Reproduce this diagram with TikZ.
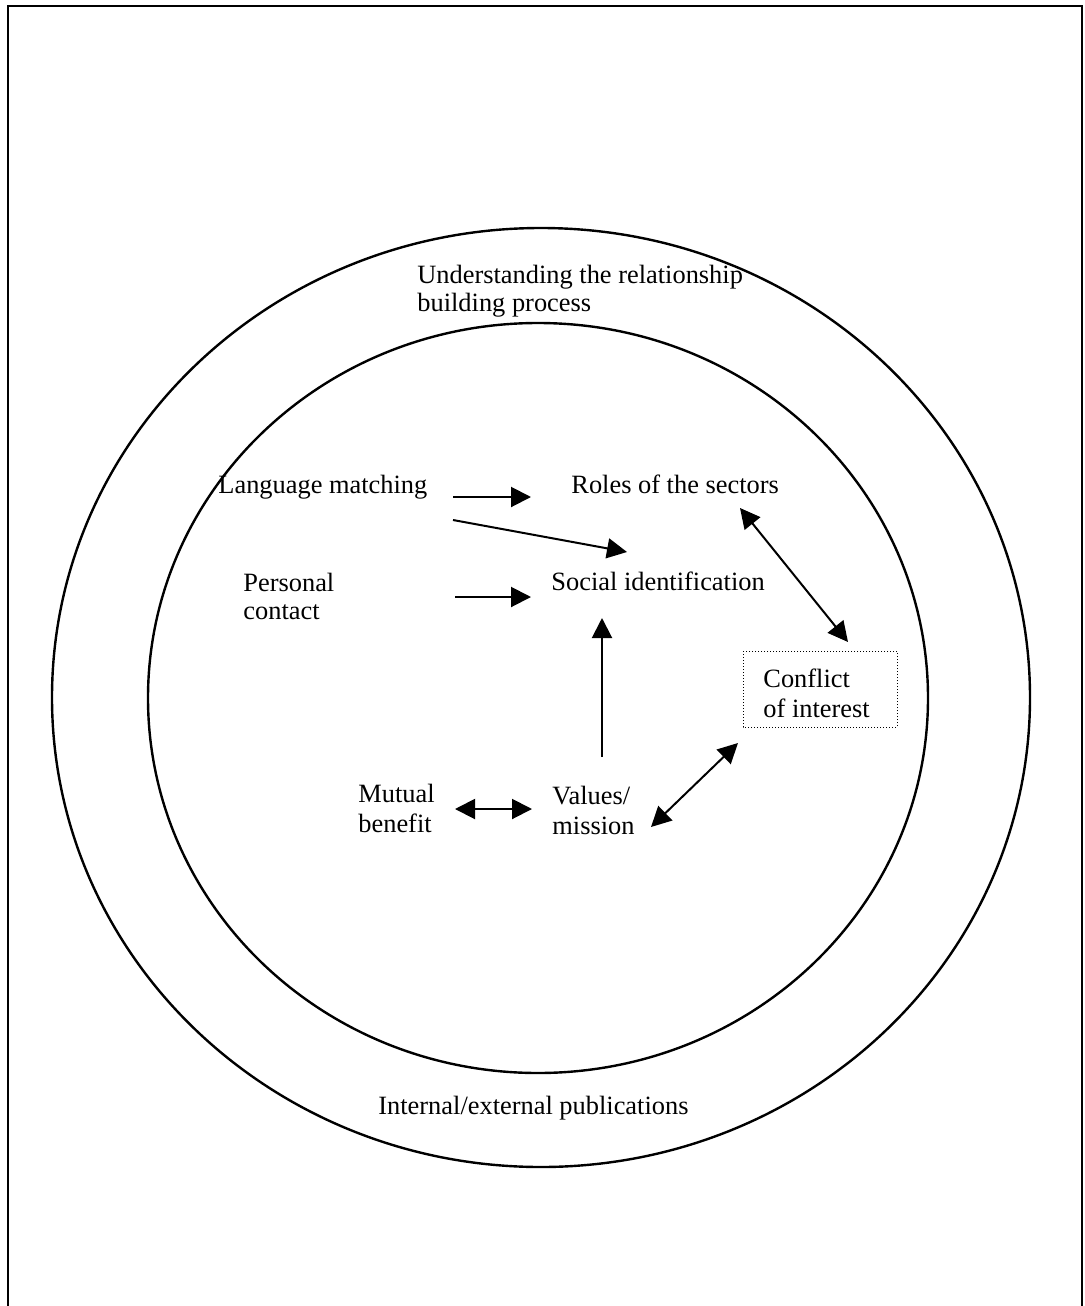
\documentclass[tikz,border=0pt]{standalone}
\usepackage{fontspec}
\setmainfont{Liberation Serif}
\usetikzlibrary{arrows.meta}
\begin{document}
\begin{tikzpicture}[x=0.5pt,y=-0.5pt,
  % base west of a text block = left end of its last baseline
  lbl/.style={anchor=base west, inner sep=0pt, align=left,
    font=\fontsize{13.2pt}{14pt}\selectfont},
  lblw/.style={lbl, font=\fontsize{13.2pt}{15pt}\selectfont},
  link/.style={line width=1pt, -{Triangle[length=10pt,width=10pt]}},
  dlink/.style={line width=1pt, {Triangle[length=10pt,width=10pt]}-{Triangle[length=10pt,width=10pt]}},
  ring/.style={line width=1.2pt}]
  % page area and frame (open at the bottom)
  \useasboundingbox (0,0) rectangle (1084,1306);
  \draw[line width=1pt] (8,1320) -- (8,6) -- (1082,6) -- (1082,1320);

  % the two rings
  \draw[ring] (541,697.5) ellipse [x radius=489, y radius=469.5];
  \draw[ring] (538,698) ellipse [x radius=390, y radius=375];

  % ring labels
  \node[lbl] (underst) at (417,311) {Understanding the relationship\\building process};
  \node[lbl] (publ) at (378,1114) {Internal/external publications};

  % inner labels
  \node[lbl] (lang) at (218,493) {Language matching};
  \node[lbl] (roles) at (571,493) {Roles of the sectors};
  \node[lbl] (pers) at (243,619) {Personal\\contact};
  \node[lbl] (social) at (551,590) {Social identification};
  \node[lblw] (mutual) at (358,832) {Mutual\\benefit};
  \node[lblw] (values) at (552,834) {Values/\\mission};
  \node[lblw] (conflict) at (763,717) {Conflict\\of interest};
  \draw[densely dotted, line width=0.5pt] (743,651) rectangle (897,727);

  % connector end points
  \coordinate (a1s) at (453,497);  \coordinate (a1e) at (531,497);
  \coordinate (a2s) at (453,520);  \coordinate (a2e) at (627,552);
  \coordinate (a3s) at (455,597);  \coordinate (a3e) at (531,597);
  \coordinate (a4s) at (740,508);  \coordinate (a4e) at (848,642);
  \coordinate (a5s) at (651,827);  \coordinate (a5e) at (738,743);
  \coordinate (a6s) at (455,809);  \coordinate (a6e) at (532,809);
  \coordinate (a7s) at (602,757);  \coordinate (a7e) at (602,618);

  % connectors
  \draw[link] (a1s) -- (a1e);
  \draw[link] (a2s) -- (a2e);
  \draw[link] (a3s) -- (a3e);
  \draw[dlink] (a4s) -- (a4e);
  \draw[dlink] (a5s) -- (a5e);
  \draw[dlink] (a6s) -- (a6e);
  \draw[link] (a7s) -- (a7e);
\end{tikzpicture}
\end{document}
